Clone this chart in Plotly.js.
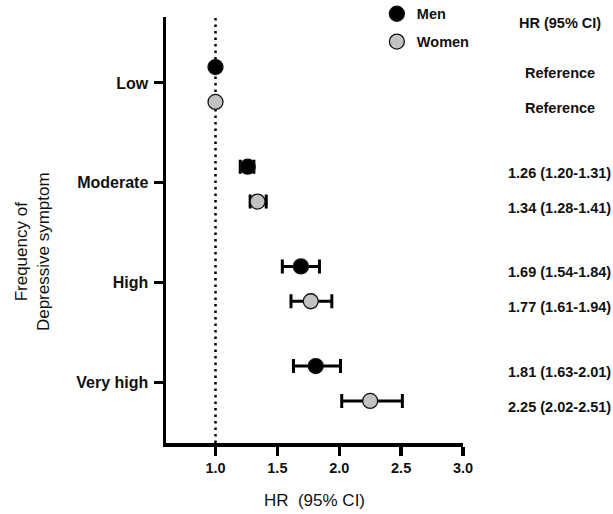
<!DOCTYPE html>
<html>
<head>
<meta charset="utf-8">
<script src="https://cdn.plot.ly/plotly-3.0.1.min.js"></script>
<style>html,body{margin:0;padding:0;background:#fff;}#chart{width:613px;height:514px;}</style>
</head>
<body>
<div id="chart"></div>
<script>
// Data
const categories = ["Low", "Moderate", "High", "Very high"];
const catPos = [4, 3, 2, 1];
const menHR = [1.00, 1.26, 1.69, 1.81];
const menLow = [1.00, 1.20, 1.54, 1.63];
const menHigh = [1.00, 1.31, 1.84, 2.01];
const womenHR = [1.00, 1.34, 1.77, 2.25];
const womenLow = [1.00, 1.28, 1.61, 2.02];
const womenHigh = [1.00, 1.41, 1.94, 2.51];
const menLabels = ["Reference", "1.26 (1.20-1.31)", "1.69 (1.54-1.84)", "1.81 (1.63-2.01)"];
const womenLabels = ["Reference", "1.34 (1.28-1.41)", "1.77 (1.61-1.94)", "2.25 (2.02-2.51)"];
const xTicks = [1.0, 1.5, 2.0, 2.5, 3.0];

const FONT = "Liberation Sans, Arial, sans-serif";
const MEN_OFF = 0.16, WOMEN_OFF = -0.19;

function errTrace(name, hr, lo, hi, off, color, group) {
  return {
    type: "scatter", mode: "markers", name: name, legendgroup: group,
    x: hr, y: catPos.map(c => c + off),
    error_x: {
      type: "data", symmetric: false,
      array: hi.map((h, i) => h - hr[i]),
      arrayminus: lo.map((l, i) => hr[i] - l),
      color: "#000", thickness: 3, width: 7
    },
    marker: { size: 15, color: color, line: { color: "#111", width: 1.3 } },
    cliponaxis: false,
    hoverinfo: "x+y"
  };
}

const traces = [
  errTrace("Men", menHR, menLow, menHigh, MEN_OFF, "#000000", "m"),
  errTrace("Women", womenHR, womenLow, womenHigh, WOMEN_OFF, "#c2c2c2", "w")
];

const annotations = [];
const txtX = 1.325;
const txtFont = { family: FONT, size: 14.5, color: "#111", weight: "bold" };
annotations.push({ xref: "paper", yref: "paper", x: txtX, y: 0.987, text: "HR (95% CI)", showarrow: false,
  xanchor: "center", yanchor: "middle", font: txtFont });
categories.forEach((c, i) => {
  annotations.push({ xref: "paper", yref: "y", x: txtX, y: catPos[i] + 0.10, text: menLabels[i], showarrow: false,
    xanchor: "center", yanchor: "middle", font: txtFont });
  annotations.push({ xref: "paper", yref: "y", x: txtX, y: catPos[i] - 0.25, text: womenLabels[i], showarrow: false,
    xanchor: "center", yanchor: "middle", font: txtFont });
});
annotations.push({ xref: "paper", yref: "paper", x: -0.45, y: 0.449, text: "Frequency of<br>Depressive symptom",
  showarrow: false, textangle: -90, xanchor: "center", yanchor: "middle",
  font: { family: FONT, size: 17, color: "#111" } });

const layout = {
  width: 613, height: 514,
  margin: { l: 166, r: 150, t: 17, b: 71, autoexpand: false },
  paper_bgcolor: "#fff", plot_bgcolor: "#fff",
  font: { family: FONT, color: "#111" },
  showlegend: true,
  legend: {
    x: 0.71, y: 1.045, xanchor: "left", yanchor: "top",
    traceorder: "grouped", tracegroupgap: 6,
    font: { family: FONT, size: 14.5, color: "#111", weight: "bold" },
    bgcolor: "rgba(0,0,0,0)"
  },
  xaxis: {
    range: [0.6, 3.0], tickvals: xTicks, ticktext: xTicks.map(v => v.toFixed(1)),
    showgrid: false, zeroline: false, showline: true, linewidth: 3.5, linecolor: "#000",
    ticks: "outside", ticklen: 9, tickwidth: 3.5, tickcolor: "#000",
    tickfont: { family: FONT, size: 14.5, color: "#111", weight: "bold" },
    title: { text: "HR  (95% CI)", standoff: 20, font: { family: FONT, size: 17, color: "#111" } },
    fixedrange: true
  },
  yaxis: {
    range: [0.388, 4.662], tickvals: catPos, ticktext: categories,
    showgrid: false, zeroline: false, showline: true, linewidth: 3.5, linecolor: "#000",
    ticks: "outside", ticklen: 9, tickwidth: 3, tickcolor: "#000",
    tickfont: { family: FONT, size: 16, color: "#111", weight: "bold" },
    ticklabelstandoff: 2,
    fixedrange: true
  },
  shapes: [{
    type: "line", xref: "x", yref: "paper", x0: 1.0, x1: 1.0, y0: 0, y1: 1,
    line: { color: "#000", width: 2.5, dash: "2.5px,4px" }, layer: "below"
  }],
  annotations: annotations
};

Plotly.newPlot("chart", traces, layout, { displayModeBar: false, staticPlot: true });
</script>
</body>
</html>
